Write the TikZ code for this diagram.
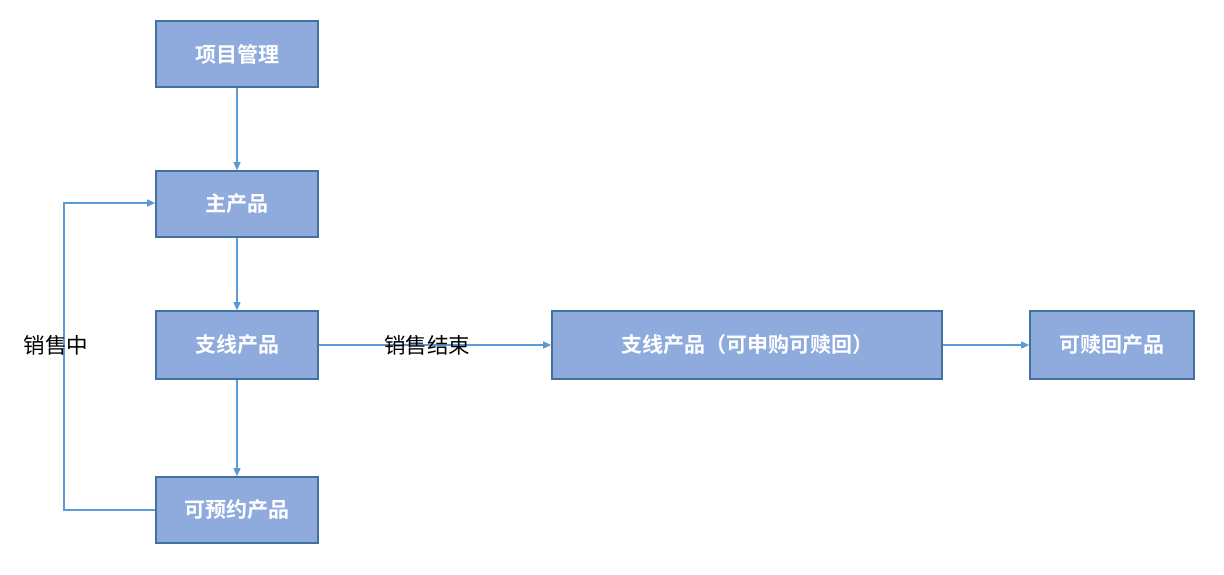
\documentclass[tikz,border=0pt]{standalone}
\usepackage{fontspec}
\setmainfont{Noto Sans CJK SC}[BoldFont={Noto Sans CJK SC Bold}]
\usetikzlibrary{arrows.meta}
\definecolor{boxfill}{HTML}{8FAADC}
\definecolor{boxline}{HTML}{41719C}
\definecolor{arr}{HTML}{5B9BD5}
\begin{document}
\begin{tikzpicture}[x=1pt,y=-1pt,
  box/.style={draw=boxline,line width=1.6pt,fill=boxfill,text=white,
    minimum height=66pt,inner sep=0pt,font=\fontsize{21}{25}\selectfont\bfseries},
  conn/.style={draw=arr,line width=1.4pt,-{Triangle[length=8pt,width=7pt]}},
  lbl/.style={text=black,font=\fontsize{21.5}{25}\selectfont,inner sep=0pt}]
\useasboundingbox (0,0) rectangle (1224,574);
\node[box,minimum width=162pt] (pm) at (237,54) {项目管理};
\node[box,minimum width=162pt] (main) at (237,204) {主产品};
\node[box,minimum width=162pt,minimum height=68pt] (branch) at (237,345) {支线产品};
\node[box,minimum width=162pt] (resv) at (237,510) {可预约产品};
\node[box,minimum width=390pt,minimum height=68pt] (sub) at (747,345) {支线产品（可申购可赎回）};
\node[box,minimum width=164pt,minimum height=68pt] (red) at (1112,345) {可赎回产品};
\coordinate (lb) at (64,510);
\coordinate (lt) at (64,203);
\draw[conn] (pm) -- (main);
\draw[conn] (main) -- (branch);
\draw[conn] (branch) -- (resv);
\draw[conn] (branch) -- (sub);
\draw[conn] (sub) -- (red);
\draw[conn] (resv.west) -- (lb) -- (lt) -- (main.west |- lt);
\node[lbl] (l1) at (56,345) {销售中};
\node[lbl] (l2) at (427,345) {销售结束};
\end{tikzpicture}
\end{document}
